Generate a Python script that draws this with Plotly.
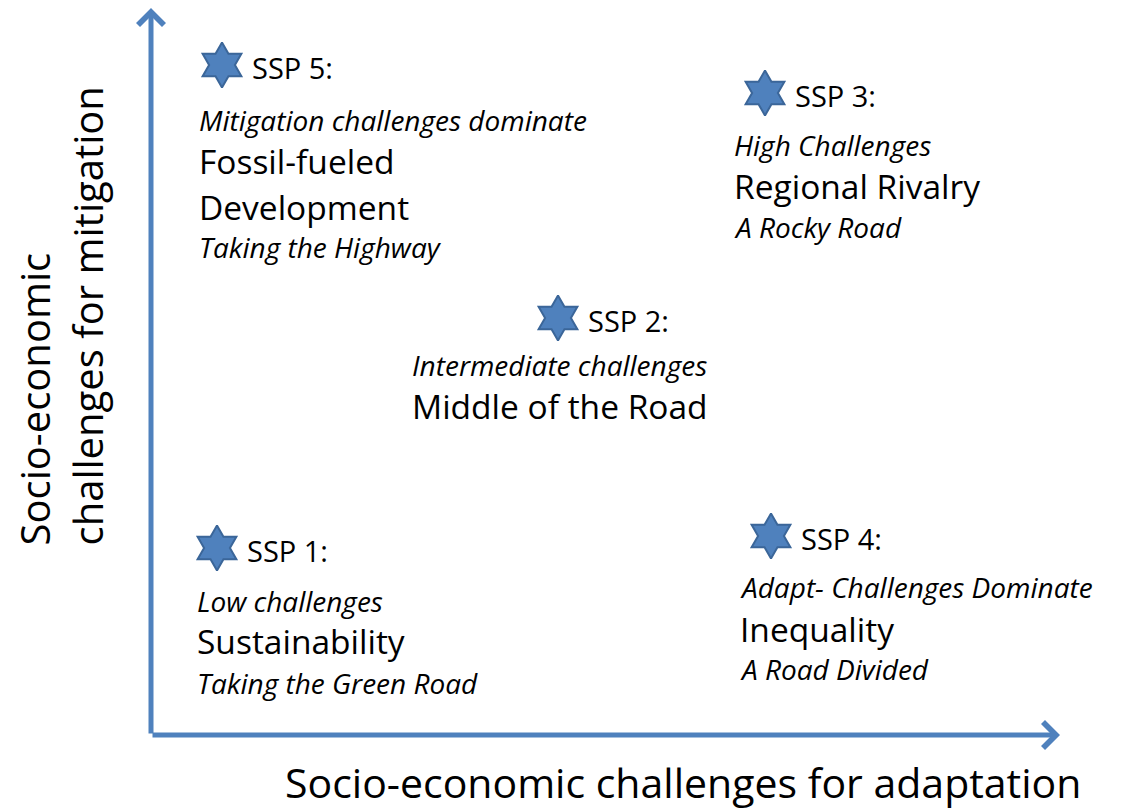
import plotly.graph_objects as go

# ---- data ----
ssp_labels = ["SSP 1:", "SSP 2:", "SSP 3:", "SSP 4:", "SSP 5:"]
adaptation = [66, 407, 614, 620, 71]      # position along adaptation-challenge axis
mitigation = [187, 417, 642, 199, 670]    # position along mitigation-challenge axis
descriptors = ["Low challenges", "Intermediate challenges", "High Challenges",
               "Adapt- Challenges Dominate", "Mitigation challenges dominate"]
names = ["Sustainability", "Middle of the Road", "Regional Rivalry", "Inequality",
         "Fossil-fueled<br>Development"]
mottos = ["Taking the Green Road", "", "A Rocky Road", "A Road Divided", "Taking the Highway"]
x_title = "Socio-economic challenges for adaptation"
y_title = ["Socio-economic", "challenges for mitigation"]

# ---- text block layout (kept separate from data) ----
text_left = [44, 259, 581, 587, 46]
desc_y = [134, 370, 590, 148, 615]
name_y = [94, 329, 549, 106, 574]
motto_y = [52, None, 508, 66, 488]
NAME_STEP = 46

BLUE = "#4F81BD"
FONT = "Open Sans"

fig = go.Figure()
fig.add_trace(go.Scatter(
    x=adaptation, y=mitigation, mode="markers",
    marker=dict(symbol="hexagram", size=34, color=BLUE,
                line=dict(color="#3B6699", width=2)),
    hoverinfo="skip", showlegend=False))

ann = []
for i in range(len(ssp_labels)):
    ann.append(dict(x=adaptation[i] + 28, y=mitigation[i] - 2, text=ssp_labels[i],
                    xanchor="left", yanchor="middle", showarrow=False,
                    font=dict(family=FONT, size=29, color="black")))
    ann.append(dict(x=text_left[i], y=desc_y[i], text="<i>" + descriptors[i] + "</i>",
                    xanchor="left", yanchor="middle", showarrow=False,
                    font=dict(family=FONT, size=28, color="black")))
    for k, line in enumerate(names[i].split("<br>")):
        ann.append(dict(x=text_left[i], y=name_y[i] - k * NAME_STEP, text=line,
                        xanchor="left", yanchor="middle", showarrow=False,
                        font=dict(family=FONT, size=33.5, color="black")))
    if mottos[i]:
        ann.append(dict(x=text_left[i], y=motto_y[i], text="<i>" + mottos[i] + "</i>",
                        xanchor="left", yanchor="middle", showarrow=False,
                        font=dict(family=FONT, size=28, color="black")))

# axis arrows
ann.append(dict(x=0, y=727, ax=0, ay=0, axref="x", ayref="y", xref="x", yref="y",
                text="", showarrow=True, arrowhead=4, arrowsize=1, arrowwidth=5,
                arrowcolor=BLUE))
ann.append(dict(x=909, y=0, ax=0, ay=0, axref="x", ayref="y", xref="x", yref="y",
                text="", showarrow=True, arrowhead=4, arrowsize=1, arrowwidth=5,
                arrowcolor=BLUE))

# axis titles
ann.append(dict(x=532, y=-47, text=x_title, xanchor="center", yanchor="middle",
                showarrow=False, font=dict(family=FONT, size=41, color="black")))
for xx, t in zip([-117, -64], y_title):
    ann.append(dict(x=xx, y=187, text=t, textangle=-90, xanchor="center",
                    yanchor="bottom", showarrow=False,
                    font=dict(family=FONT, size=40, color="black")))

# page has an 8px body margin: figure is sized so the diagram lands on the page as in the reference
fig.update_layout(
    width=1117, height=801, margin=dict(l=0, r=0, t=0, b=0),
    paper_bgcolor="white", plot_bgcolor="white",
    xaxis=dict(range=[-143, 974], visible=False, fixedrange=True),
    yaxis=dict(range=[-74, 727], visible=False, fixedrange=True),
    annotations=ann, showlegend=False)

fig.write_html("out.html")
